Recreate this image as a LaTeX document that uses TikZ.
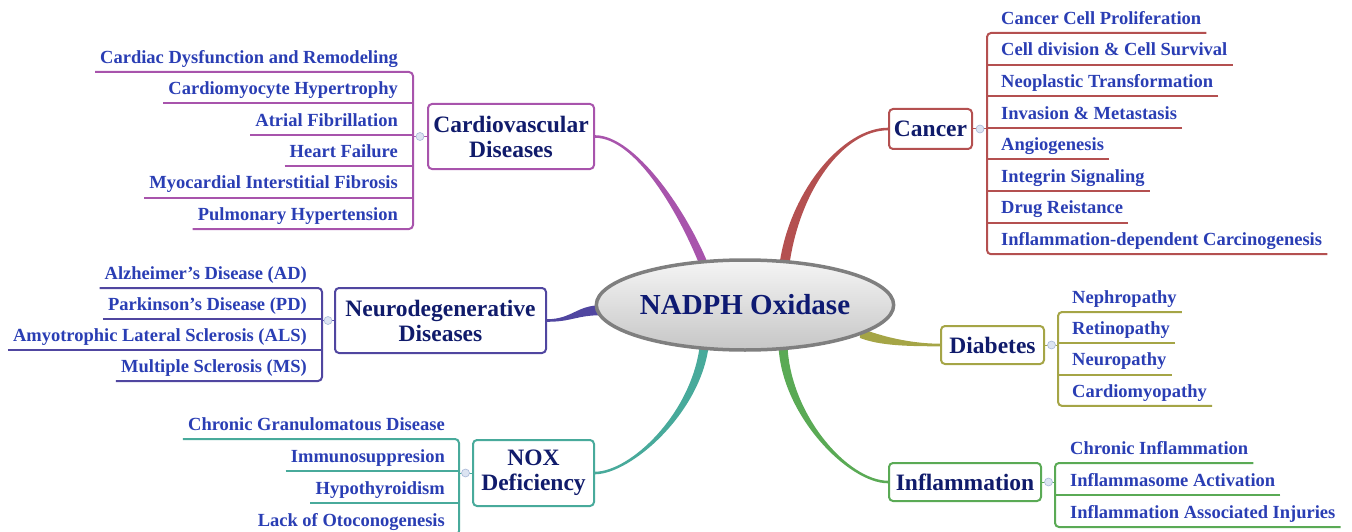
\documentclass[tikz,border=0pt]{standalone}
\usepackage{fontspec}
\setmainfont{Liberation Serif}
\usetikzlibrary{calc,backgrounds,shapes.geometric}

\definecolor{cvcol}{HTML}{A854AC}
\definecolor{necol}{HTML}{5046A0}
\definecolor{nxcol}{HTML}{48AA9B}
\definecolor{cacol}{HTML}{B45050}
\definecolor{dicol}{HTML}{A5A546}
\definecolor{incol}{HTML}{5AAA55}
\definecolor{itemtext}{HTML}{2A3EB4}
\definecolor{boxtext}{HTML}{101B6B}
\definecolor{hubtext}{HTML}{0E1A72}
\definecolor{hubline}{HTML}{7F7F7F}
\definecolor{hubtop}{HTML}{F5F5F5}
\definecolor{hubbot}{HTML}{C6C6C6}
\definecolor{knobfill}{HTML}{DCE4F2}
\definecolor{knobline}{HTML}{A8B8D8}

\begin{document}
\begin{tikzpicture}
[x=1pt,y=-1pt,%
  every node/.style={font=\bfseries},%
  topic/.style={draw,rounded corners=4pt,line width=2pt,fill=white,text=boxtext,
    align=center,inner sep=0pt,font=\bfseries\fontsize{23.5}{25}\selectfont},%
  item/.style={text=itemtext,inner xsep=5pt,inner ysep=4pt,text height=13pt,
    text depth=4.5pt,font=\bfseries\fontsize{18.5}{20}\selectfont},%
  litem/.style={item,anchor=south east},%
  ritem/.style={item,anchor=south west},%
  leaf/.style={line width=2pt},%
  knob/.style={circle,draw=knobline,fill=knobfill,line width=.6pt,inner sep=0pt,
    minimum size=8pt}]
\clip (0,0) rectangle (1352,532);

% centre
\node[ellipse,draw=hubline,line width=3.5pt,top color=hubtop,bottom color=hubbot,
  minimum width=277pt,minimum height=90pt,inner sep=0pt,text=hubtext,
  font=\bfseries\fontsize{29}{32}\selectfont] (hub) at (745,305) {NADPH Oxidase};

% topics
\node[topic,draw=cvcol,minimum width=166pt,minimum height=65pt] (cv) at (511,136.5) {Cardiovascular\\Diseases};
\node[topic,draw=necol,minimum width=211pt,minimum height=65pt] (ne) at (440.5,320.5) {Neurodegenerative\\Diseases};
\node[topic,draw=nxcol,minimum width=121pt,minimum height=66pt] (nx) at (533.5,473) {NOX\\Deficiency};
\node[topic,draw=cacol,minimum width=83pt,minimum height=40pt] (ca) at (930.5,129) {Cancer};
\node[topic,draw=dicol,minimum width=103pt,minimum height=38pt] (di) at (992.5,345) {Diabetes};
\node[topic,draw=incol,minimum width=152pt,minimum height=38pt] (infl) at (965,482) {Inflammation};

% branches
\begin{pgfonlayer}{background}
\fill[cvcol] ($(cv.east)+(0,-1.3)$) .. controls +(40,0) and +(-22,-55) .. ($(hub.132)+(4.5,6)$)
  -- ($(hub.132)+(-4.5,6)$) .. controls +(-22,-55) and +(40,0) .. ($(cv.east)+(0,1.3)$) -- cycle;
\fill[cacol] ($(ca.west)+(0,1.3)$) .. controls +(-45,0) and +(10,-75) .. ($(hub.49)+(5,6)$)
  -- ($(hub.49)+(-5,6)$) .. controls +(10,-75) and +(-45,0) .. ($(ca.west)+(0,-1.3)$) -- cycle;
\fill[necol] ($(ne.east)+(0,-1.3)$) .. controls +(25,0) and +(-25,0) .. ($(hub.182)+(6,-5)$)
  -- ($(hub.182)+(6,5)$) .. controls +(-25,0) and +(25,0) .. ($(ne.east)+(0,1.3)$) -- cycle;
\fill[dicol] ($(hub.347)+(-6,-5)$) .. controls +(20,8) and +(-30,0) .. ($(di.west)+(0,-1.3)$)
  -- ($(di.west)+(0,1.3)$) .. controls +(-30,0) and +(20,8) .. ($(hub.347)+(-6,5)$) -- cycle;
\fill[nxcol] ($(nx.east)+(0,-1.3)$) .. controls +(35,0) and +(-8,70) .. ($(hub.228)+(-4.5,-6)$)
  -- ($(hub.228)+(4.5,-6)$) .. controls +(-8,70) and +(35,0) .. ($(nx.east)+(0,1.3)$) -- cycle;
\fill[incol] ($(hub.310)+(4.5,-6)$) .. controls +(2,70) and +(-40,0) .. ($(infl.west)+(0,-1.3)$)
  -- ($(infl.west)+(0,1.3)$) .. controls +(-40,0) and +(2,70) .. ($(hub.310)+(-4.5,-6)$) -- cycle;
\end{pgfonlayer}

% cardiovascular
\foreach \txt [count=\i] in {Cardiac Dysfunction and Remodeling,Cardiomyocyte Hypertrophy,
  Atrial Fibrillation,Heart Failure,Myocardial Interstitial Fibrosis,Pulmonary Hypertension}
  \node[litem] (cv\i) at (403,{72+31.4*(\i-1)}) {\txt};
\coordinate (cvbr) at (413,136.5);
\draw[leaf,cvcol,rounded corners=4pt] (cv1.south west) -| (cvbr) |- (cv6.south west);
\foreach \i in {2,...,5} \draw[leaf,cvcol] (cv\i.south west) -- (cv\i.south west -| cvbr);
\draw[cvcol,line width=1pt] (cvbr) -- (cv.west);
\node[knob] (cvk) at ($(cvbr)!.5!(cv.west)$) {};

% neurodegenerative
\foreach \txt [count=\i] in {Alzheimer’s Disease (AD),Parkinson’s Disease (PD),
  Amyotrophic Lateral Sclerosis (ALS),Multiple Sclerosis (MS)}
  \node[litem] (ne\i) at (312,{288+31*(\i-1)}) {\txt};
\coordinate (nebr) at (322,320.5);
\draw[leaf,necol,rounded corners=4pt] (ne1.south west) -| (nebr) |- (ne4.south west);
\foreach \i in {2,3} \draw[leaf,necol] (ne\i.south west) -- (ne\i.south west -| nebr);
\draw[necol,line width=1pt] (nebr) -- (ne.west);
\node[knob] (nek) at ($(nebr)!.5!(ne.west)$) {};

% nox deficiency
\foreach \txt [count=\i] in {Chronic Granulomatous Disease,Immunosuppresion,
  Hypothyroidism,Lack of Otoconogenesis}
  \node[litem] (nx\i) at (450,{439+32*(\i-1)}) {\txt};
\coordinate (nxbr) at (459,473);
\draw[leaf,nxcol,rounded corners=4pt] (nx1.south west) -| (nxbr) |- (nx4.south west);
\foreach \i in {2,3} \draw[leaf,nxcol] (nx\i.south west) -- (nx\i.south west -| nxbr);
\draw[nxcol,line width=1pt] (nxbr) -- (nx.west);
\node[knob] (nxk) at ($(nxbr)!.5!(nx.west)$) {};

% cancer
\foreach \txt [count=\i] in {Cancer Cell Proliferation,Cell division \& Cell Survival,
  Neoplastic Transformation,Invasion \& Metastasis,Angiogenesis,Integrin Signaling,
  Drug Reistance,Inflammation-dependent Carcinogenesis}
  \node[ritem] (ca\i) at (996,{33+31.6*(\i-1)}) {\txt};
\coordinate (cabr) at (987,129);
\draw[leaf,cacol,rounded corners=4pt] (ca1.south east) -| (cabr) |- (ca8.south east);
\foreach \i in {2,...,7} \draw[leaf,cacol] (ca\i.south east) -- (ca\i.south east -| cabr);
\draw[cacol,line width=1pt] (cabr) -- (ca.east);
\node[knob] (cak) at ($(cabr)!.5!(ca.east)$) {};

% diabetes
\foreach \txt [count=\i] in {Nephropathy,Retinopathy,Neuropathy,Cardiomyopathy}
  \node[ritem] (di\i) at (1067,{312+31.3*(\i-1)}) {\txt};
\coordinate (dibr) at (1058,345);
\draw[leaf,dicol,rounded corners=4pt] (di1.south east) -| (dibr) |- (di4.south east);
\foreach \i in {2,3} \draw[leaf,dicol] (di\i.south east) -- (di\i.south east -| dibr);
\draw[dicol,line width=1pt] (dibr) -- (di.east);
\node[knob] (dik) at ($(dibr)!.5!(di.east)$) {};

% inflammation
\foreach \txt [count=\i] in {Chronic Inflammation,Inflammasome Activation,
  Inflammation Associated Injuries}
  \node[ritem] (in\i) at (1065,{463+32*(\i-1)}) {\txt};
\coordinate (inbr) at (1055,482);
\draw[leaf,incol,rounded corners=4pt] (in1.south east) -| (inbr) |- (in3.south east);
\draw[leaf,incol] (in2.south east) -- (in2.south east -| inbr);
\draw[incol,line width=1pt] (inbr) -- (infl.east);
\node[knob] (ink) at ($(inbr)!.5!(infl.east)$) {};
\end{tikzpicture}
\end{document}
